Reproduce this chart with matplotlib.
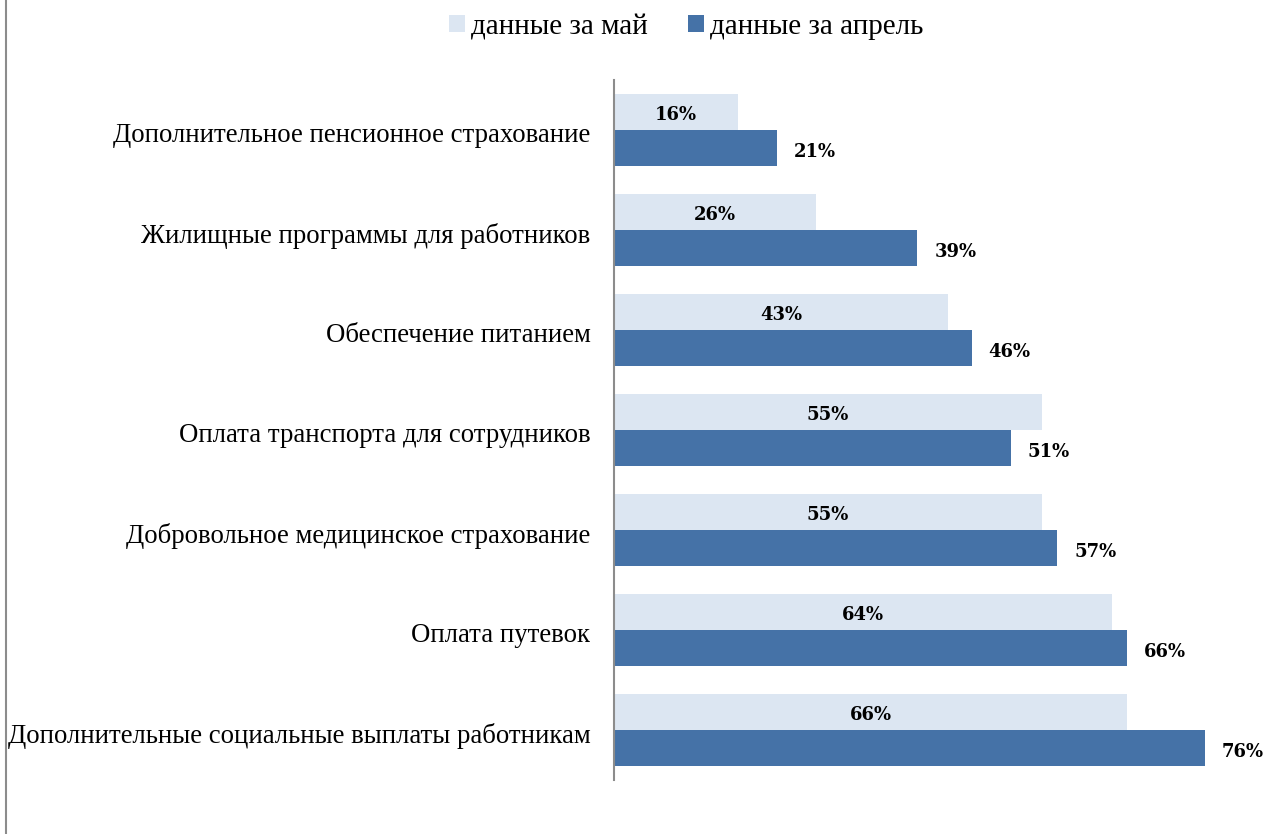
import numpy as np
import matplotlib.pyplot as plt
import matplotlib.transforms as mtransforms
from matplotlib.lines import Line2D

categorias = ["Дополнительное пенсионное страхование",
              "Жилищные программы для работников",
              "Обеспечение питанием",
              "Оплата транспорта для сотрудников",
              "Добровольное медицинское страхование",
              "Оплата путевок",
              "Дополнительные социальные выплаты работникам"]
mayo = [16, 26, 43, 55, 55, 64, 66]
abril = [21, 39, 46, 51, 57, 66, 76]

C_MAY = '#DCE6F2'
C_APR = '#4572A7'
FUENTE = ['Liberation Serif', 'DejaVu Serif']
FUENTE_NUM = ['DejaVu Serif']

W, H = 1267, 834
fig = plt.figure(figsize=(W / 100, H / 100), dpi=100)
fig.patch.set_facecolor('white')

# ejes en pixeles
x0, x1 = 614, 614 + 80 * 7.776
y_top, y_bot = 80, 780
ax = fig.add_axes([x0 / W, 1 - y_bot / H, (x1 - x0) / W, (y_bot - y_top) / H])

y = np.arange(len(categorias))
h = 0.36
b_may = ax.barh(y - h / 2, mayo, height=h, color=C_MAY, label='данные за май')
b_apr = ax.barh(y + h / 2, abril, height=h, color=C_APR, label='данные за апрель')

ax.set_ylim(len(categorias) - 0.5, -0.5)
ax.set_xlim(0, 80)
ax.set_yticks(y)
ax.set_yticklabels(categorias, fontsize=19.3, family=FUENTE)
ax.tick_params(axis='y', length=0, pad=17)
ax.set_xticks([])
# bajar un poco las etiquetas
desplaza = mtransforms.ScaledTranslation(0, -3 / 100, fig.dpi_scale_trans)
for lbl in ax.get_yticklabels():
    lbl.set_transform(lbl.get_transform() + desplaza)
for s in ['top', 'right', 'bottom']:
    ax.spines[s].set_visible(False)
ax.spines['left'].set_color('#8c8c8c')
ax.spines['left'].set_linewidth(1.5)

for rect, v in zip(b_may, mayo):
    ax.annotate(f"{v}%", (rect.get_width() / 2, rect.get_y() + rect.get_height() / 2),
                xytext=(0, -3), textcoords='offset pixels', ha='center', va='center',
                fontsize=13, fontweight='bold', family=FUENTE_NUM)
for rect, v in zip(b_apr, abril):
    ax.annotate(f"{v}%", (rect.get_width(), rect.get_y() + rect.get_height() / 2),
                xytext=(17, -4), textcoords='offset pixels', ha='left', va='center',
                fontsize=13, fontweight='bold', family=FUENTE_NUM)

fig.legend(handles=[b_may, b_apr], loc='center', bbox_to_anchor=(686 / W, 1 - 27 / H),
           ncol=2, frameon=False, prop={'family': FUENTE, 'size': 21},
           handlelength=0.55, handleheight=0.55, handletextpad=0.2, columnspacing=1.4)

# borde izquierdo
fig.add_artist(Line2D([6 / W, 6 / W], [0, 1], transform=fig.transFigure,
                      color='#8c8c8c', linewidth=1.5))

plt.savefig('out.png', dpi=100)
